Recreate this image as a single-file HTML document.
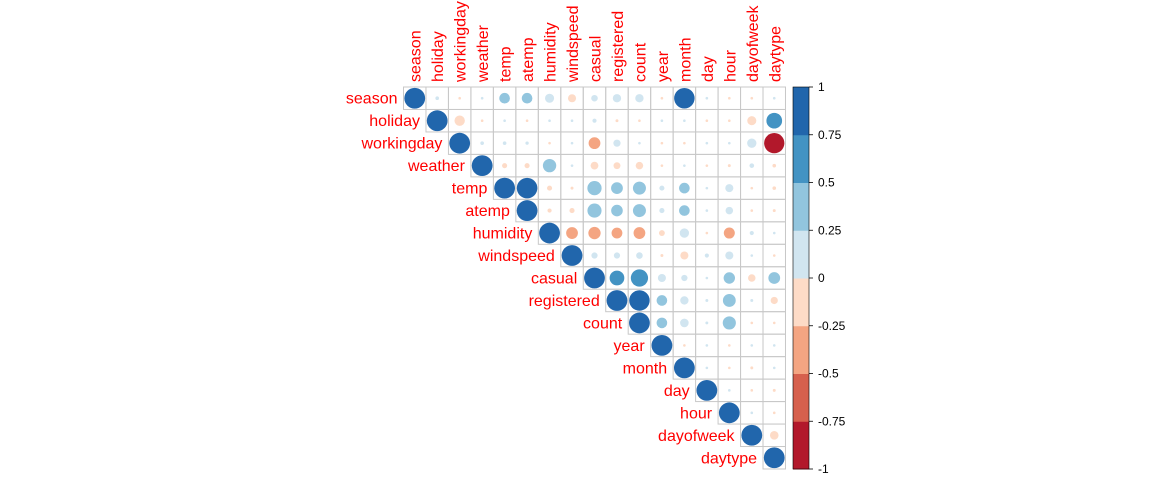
<!DOCTYPE html>
<html><head><meta charset="utf-8"><style>
body{margin:0;background:#fff;width:1152px;height:480px;overflow:hidden}
svg text{font-family:"Liberation Sans",sans-serif}
</style></head><body>
<svg id="chart" width="1152" height="480" xmlns="http://www.w3.org/2000/svg"></svg>
<script>
const vars=["season","holiday","workingday","weather","temp","atemp","humidity","windspeed","casual","registered","count","year","month","day","hour","dayofweek","daytype"];
const rowSeason=[0.03,-0.01,0.01,0.26,0.26,0.19,-0.15,0.1,0.16,0.16,-0.005,0.97,0.001,-0.006,-0.01,0.01];
const rowHoliday=[-0.25,-0.005,0.002,-0.005,0.001,0.008,0.04,-0.02,-0.005,0.01,0.001,-0.015,-0.003,-0.19,0.57];
const rowWorkingday=[0.03,0.03,0.025,-0.01,0.013,-0.32,0.12,0.01,-0.003,-0.003,0.01,0.002,0.2,-0.95];
const rowWeather=[-0.06,-0.06,0.41,0.007,-0.14,-0.11,-0.13,-0.01,0.01,-0.01,-0.02,0.05,-0.03];
const rowTemp=[0.98,-0.06,-0.02,0.47,0.32,0.39,0.06,0.26,0.01,0.15,-0.005,-0.03];
const rowAtemp=[-0.04,-0.06,0.46,0.31,0.39,0.06,0.26,0.01,0.13,-0.01,-0.02];
const rowHumidity=[-0.32,-0.35,-0.27,-0.32,-0.08,0.2,-0.01,-0.28,0.04,0.01];
const rowWindspeed=[0.09,0.09,0.1,-0.02,-0.15,0.04,0.15,0.01,-0.01];
const rowCasual=[0.5,0.69,0.15,0.09,0.01,0.3,-0.13,0.32];
const rowRegistered=[0.97,0.26,0.16,0.02,0.38,0.02,-0.12];
const rowCount=[0.26,0.17,0.02,0.4,-0.005,-0.01];
const rowYear=[-0.004,0.002,-0.004,0.005,0.003];
const rowMonth=[0.001,-0.006,-0.02,0.002];
const rowDay=[0.001,-0.005,-0.02];
const rowHour=[0.001,-0.002];
const rowDayofweek=[-0.17];
const rowDaytype=[];
const rows=[rowSeason,rowHoliday,rowWorkingday,rowWeather,rowTemp,rowAtemp,rowHumidity,rowWindspeed,rowCasual,rowRegistered,rowCount,rowYear,rowMonth,rowDay,rowHour,rowDayofweek,rowDaytype];
const barTicks=[1,0.75,0.5,0.25,0,-0.25,-0.5,-0.75,-1];
const barTickLabels=["1","0.75","0.5","0.25","0","-0.25","-0.5","-0.75","-1"];

const NS="http://www.w3.org/2000/svg";
const svg=document.getElementById('chart');
const x0=403.5,y0=87,cs=22.47,R=10.4;
const cx=j=>x0+cs*j+cs/2, cy=i=>y0+cs*i+cs/2;
const pal=["#B2182B","#D6604D","#F4A582","#FDDBC7","#D1E5F0","#92C5DE","#4393C3","#2166AC"];
function col(v){let k=Math.floor((v+1)/0.25);if(k>7)k=7;if(k<0)k=0;return pal[k];}
function mk(t,a){const e=document.createElementNS(NS,t);for(const k in a)e.setAttribute(k,a[k]);svg.appendChild(e);return e;}
const n=vars.length;
for(let i=0;i<n;i++){
  const vals=[1].concat(rows[i]);
  for(let k=0;k<vals.length;k++){
    const j=i+k;
    const r=mk('rect',{x:x0+cs*j,y:y0+cs*i,width:cs,height:cs,fill:'none',stroke:'#c8c8c8','stroke-width':1});
    
    
    const v=vals[k];
    const c=mk('circle',{cx:cx(j),cy:cy(i),r:Math.max(1.3,Math.sqrt(Math.abs(v))*R),fill:col(v)});
    
    
  }
  const rl=mk('text',{x:x0+cs*i-6,y:cy(i)+5.5,'text-anchor':'end','font-size':16,fill:'#ff0000'});
  rl.textContent=vars[i];
  
  
  const cl=mk('text',{x:0,y:0,'font-size':16,fill:'#ff0000',transform:'translate('+(cx(i)+6)+','+(y0-5)+') rotate(-90)'});
  cl.textContent=vars[i];
  
  
}
const bx=793,bw=16,by=87,bh=382;
const bscale=v=>by+(1-v)/2*bh;
for(let k=0;k<8;k++){
  const lo=-1+k*0.25,hi=lo+0.25;
  const r=mk('rect',{x:bx,y:bscale(hi),width:bw,height:bscale(lo)-bscale(hi)+0.5,fill:pal[k]});
  
  
}
const bo=mk('rect',{x:bx,y:by,width:bw,height:bh,fill:'none',stroke:'#000','stroke-width':0.6});


barTicks.forEach((t,i)=>{
  const l=mk('line',{x1:bx+bw,x2:bx+bw+4,y1:bscale(t),y2:bscale(t),stroke:'#000','stroke-width':0.8});
  
  
  const tx=mk('text',{x:818,y:bscale(t)+4,'font-size':12,fill:'#000'});
  tx.textContent=barTickLabels[i];
  
  
});
</script>
</body></html>
